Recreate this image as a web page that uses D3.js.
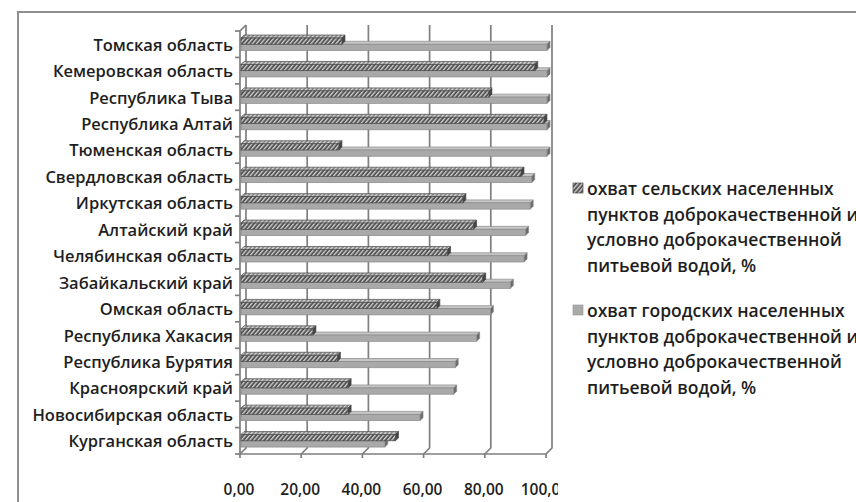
<!DOCTYPE html>
<html>
<head>
<meta charset="utf-8">
<script src="https://cdn.jsdelivr.net/npm/d3@7"></script>
<style>
  html, body { margin: 0; padding: 0; background: #fff; }
  svg { display: block; }
  text { font-family: "Open Sans", Lato, sans-serif; }
</style>
</head>
<body>
<svg id="chart" width="856" height="502"></svg>
<script>
const categories = [
  "Томская область", "Кемеровская область", "Республика Тыва", "Республика Алтай",
  "Тюменская область", "Свердловская область", "Иркутская область", "Алтайский край",
  "Челябинская область", "Забайкальский край", "Омская область", "Республика Хакасия",
  "Республика Бурятия", "Красноярский край", "Новосибирская область", "Курганская область"
];
const rural = [33, 96, 81, 99, 32, 91.5, 72.5, 76, 67.5, 79, 64, 23.5, 31.5, 35, 35, 50.5];
const urban = [100, 100, 100, 100, 100, 95, 94.5, 93, 92.5, 88, 81.5, 77, 70, 69.5, 58.5, 47];
const legendLines = [
  ["охват сельских населенных", "пунктов доброкачественной и", "условно доброкачественной", "питьевой водой, %"],
  ["охват городских населенных", "пунктов доброкачественной и", "условно доброкачественной", "питьевой водой, %"]
];
const tickValues = [0, 20, 40, 60, 80, 100];
const tickLabels = ["0,00", "20,00", "40,00", "60,00", "80,00", "100,00"];

const svg = d3.select("#chart");

const defs = svg.append("defs");
const pat = defs.append("pattern").attr("id", "hatch").attr("patternUnits", "userSpaceOnUse")
  .attr("width", 3.2).attr("height", 3.2).attr("patternTransform", "rotate(40)");
pat.append("rect").attr("width", 3.2).attr("height", 3.2).attr("fill", "#555");
pat.append("rect").attr("width", 1.3).attr("height", 3.2).attr("fill", "#cfcfcf");
const pat2 = defs.append("pattern").attr("id", "hatchTop").attr("patternUnits", "userSpaceOnUse")
  .attr("width", 3.2).attr("height", 3.2).attr("patternTransform", "rotate(40)");
pat2.append("rect").attr("width", 3.2).attr("height", 3.2).attr("fill", "#8a8a8a");
pat2.append("rect").attr("width", 1.3).attr("height", 3.2).attr("fill", "#dadada");
defs.append("clipPath").attr("id", "tickclip").append("rect")
  .attr("x", 0).attr("y", 0).attr("width", 558).attr("height", 502);

svg.append("rect").attr("x", 18).attr("y", 12).attr("width", 900).attr("height", 520)
  .attr("fill", "none").attr("stroke", "#8f8f8f").attr("stroke-width", 2);

const x = d3.scaleLinear().domain([0, 100]).range([240, 546]);
const y = d3.scaleBand().domain(categories).range([31, 454]);
const D = 6;
const dd = 3;
const plotTop = 31, plotBottom = 454;

const grid = svg.append("g").attr("stroke", "#7f7f7f").attr("stroke-width", 1.7).attr("fill", "none");
tickValues.forEach(v => {
  const xv = x(v);
  grid.append("path").attr("d",
    `M${xv + D},${plotTop - D} L${xv + D},${plotBottom - D} L${xv},${plotBottom} L${xv},${plotBottom + 4}`);
});
grid.append("path").attr("d", `M${x(0) + D},${plotTop - D} L${x(0)},${plotTop} L${x(0)},${plotBottom} L${x(100)},${plotBottom}`);
categories.forEach(c => {
  grid.append("line").attr("x1", x(0) - 5).attr("x2", x(0)).attr("y1", y(c)).attr("y2", y(c));
});
grid.append("line").attr("x1", x(0) - 5).attr("x2", x(0)).attr("y1", plotBottom).attr("y2", plotBottom);

const sub = d3.scaleBand().domain([0, 1]).range([0, 12.5]);
const h = sub.bandwidth();
const barsG = svg.append("g");
function bar3d(g, v, yy, front, topFill, endFill, stroke) {
  const x0 = x(0) + 1, x1 = x(v) + 1;
  g.append("path").attr("d", `M${x0},${yy} L${x0 + dd},${yy - dd} L${x1 + dd},${yy - dd} L${x1},${yy} Z`)
    .attr("fill", topFill).attr("stroke", stroke).attr("stroke-width", 0.7);
  g.append("path").attr("d", `M${x1},${yy} L${x1 + dd},${yy - dd} L${x1 + dd},${yy + h - dd} L${x1},${yy + h} Z`)
    .attr("fill", endFill).attr("stroke", stroke).attr("stroke-width", 0.7);
  g.append("rect").attr("x", x0).attr("y", yy).attr("width", x1 - x0).attr("height", h)
    .attr("fill", front).attr("stroke", stroke).attr("stroke-width", 0.7);
}
categories.forEach((c, i) => {
  const base = y(c) + 7;
  const g = barsG.append("g");
  bar3d(g, urban[i], base + sub(1), "#a9a9a9", "#c6c6c6", "#6a6a6a", "#8a8a8a");
  bar3d(g, rural[i], base + sub(0), "url(#hatch)", "url(#hatchTop)", "#444", "#4a4a4a");
});

svg.append("g").selectAll("text").data(categories).join("text")
  .attr("x", 233).attr("y", c => y(c) + y.bandwidth() / 2)
  .attr("text-anchor", "end").attr("dominant-baseline", "central")
  .attr("font-size", 16.5).attr("font-weight", 600).attr("fill", "#1e1e1e")
  .text(c => c);

svg.append("g").attr("clip-path", "url(#tickclip)").selectAll("text").data(tickValues).join("text")
  .attr("x", v => x(v) - 1).attr("y", 489)
  .attr("text-anchor", "middle").attr("dominant-baseline", "central")
  .attr("font-size", 15.5).attr("font-weight", 600).attr("fill", "#1e1e1e")
  .text((v, i) => tickLabels[i]);

const lg = svg.append("g");
const legendY = [188, 310];
const lh = 25.5;
legendLines.forEach((lines, k) => {
  lg.append("rect").attr("x", 573).attr("y", legendY[k] - 5).attr("width", 10).attr("height", 10)
    .attr("fill", k === 0 ? "url(#hatch)" : "#a9a9a9").attr("stroke", k === 0 ? "#4a4a4a" : "#9a9a9a")
    .attr("stroke-width", 0.7);
  lines.forEach((t, j) => {
    lg.append("text").attr("x", 587).attr("y", legendY[k] + j * lh)
      .attr("dominant-baseline", "central").attr("font-size", 17.5).attr("font-weight", 600)
      .attr("fill", "#1e1e1e").text(t);
  });
});
</script>
</body>
</html>
